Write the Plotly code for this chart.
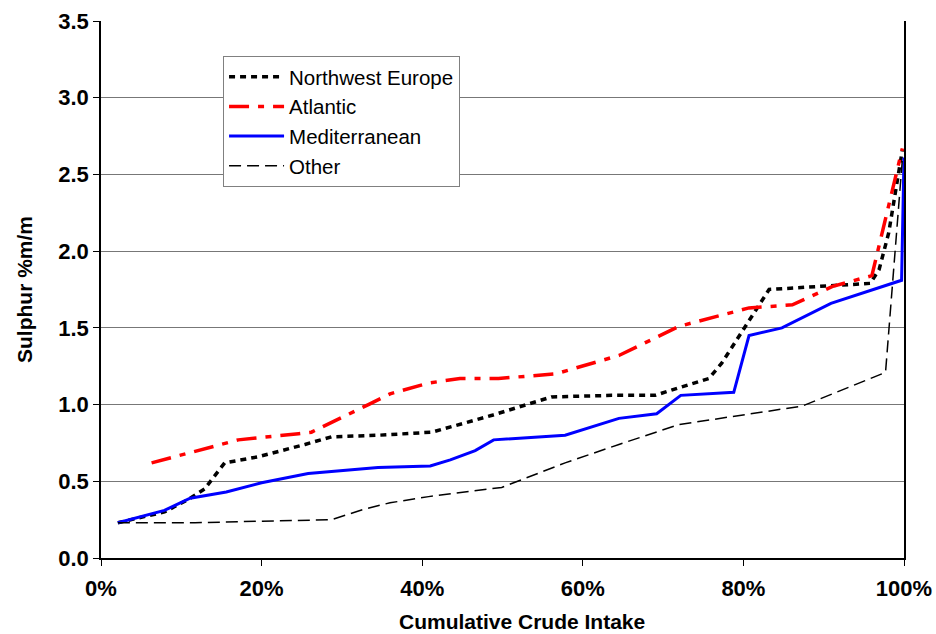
import plotly.graph_objects as go

# Cumulative crude intake (%) and sulphur (%m/m) per region
nwe_x = [2.1, 7.9, 10.8, 12.9, 15.4, 19.6, 25.4, 28.7, 34.5, 41.2, 48.7, 56.1, 63.6, 69.0, 72.0, 75.7, 77.3, 80.3, 83.2, 89.4, 95.8, 96.9, 98.1, 99.8]
nwe_y = [0.23, 0.30, 0.38, 0.45, 0.62, 0.66, 0.74, 0.79, 0.80, 0.82, 0.93, 1.05, 1.06, 1.06, 1.11, 1.17, 1.27, 1.51, 1.75, 1.77, 1.79, 1.88, 2.12, 2.66]

atl_x = [6.3, 12.1, 17.1, 24.6, 26.2, 33.3, 36.0, 40.8, 44.7, 49.5, 56.6, 64.5, 72.0, 80.7, 86.1, 91.1, 96.0, 99.8]
atl_y = [0.62, 0.70, 0.77, 0.81, 0.82, 1.00, 1.07, 1.14, 1.17, 1.17, 1.20, 1.32, 1.51, 1.63, 1.65, 1.77, 1.84, 2.67]

med_x = [2.1, 7.9, 11.1, 15.6, 20.0, 25.8, 34.5, 41.0, 43.5, 46.6, 48.9, 57.8, 64.5, 69.2, 72.2, 78.8, 80.7, 84.8, 90.9, 99.7, 100.0]
med_y = [0.23, 0.31, 0.39, 0.43, 0.49, 0.55, 0.59, 0.60, 0.64, 0.70, 0.77, 0.80, 0.91, 0.94, 1.06, 1.08, 1.45, 1.50, 1.66, 1.81, 2.61]

oth_x = [2.1, 11.7, 28.7, 32.9, 36.0, 40.8, 49.9, 57.8, 64.5, 72.0, 87.3, 97.7, 99.8]
oth_y = [0.23, 0.23, 0.25, 0.32, 0.36, 0.40, 0.46, 0.62, 0.74, 0.87, 0.99, 1.21, 2.60]

x_ticks = [0, 20, 40, 60, 80, 100]
x_tick_labels = ["0%", "20%", "40%", "60%", "80%", "100%"]
y_ticks = [0.0, 0.5, 1.0, 1.5, 2.0, 2.5, 3.0, 3.5]

FONT = "Liberation Sans, Arial, sans-serif"

fig = go.Figure()
fig.add_trace(go.Scatter(x=nwe_x, y=nwe_y, mode="lines", name="Northwest Europe",
                         line=dict(color="black", width=3.5, dash="6px,5px")))
fig.add_trace(go.Scatter(x=atl_x, y=atl_y, mode="lines", name="Atlantic",
                         line=dict(color="#FF0000", width=3.5, dash="20px,9px,6px,9px")))
fig.add_trace(go.Scatter(x=med_x, y=med_y, mode="lines", name="Mediterranean",
                         line=dict(color="#0000FF", width=3)))
fig.add_trace(go.Scatter(x=oth_x, y=oth_y, mode="lines", name="Other",
                         line=dict(color="black", width=1.5, dash="12px,6px")))

fig.add_annotation(text="<b>Cumulative Crude Intake</b>", xref="paper", yref="paper",
                   x=0.524, y=-0.118, xanchor="center", yanchor="middle", showarrow=False,
                   borderpad=0, font=dict(family=FONT, size=21, color="black"))

fig.update_layout(
    width=936, height=634,
    margin=dict(l=101, r=32, t=21, b=76),
    paper_bgcolor="white", plot_bgcolor="white",
    font=dict(family=FONT, color="black"),
    showlegend=True,
    legend=dict(x=0.152, y=0.935, xanchor="left", yanchor="top",
                bgcolor="white", bordercolor="#808080", borderwidth=1,
                font=dict(family=FONT, size=20.5, color="black"),
                itemwidth=55, tracegroupgap=0),
    xaxis=dict(range=[0, 100], tickvals=x_ticks, ticktext=x_tick_labels,
               showgrid=False, zeroline=False, automargin=False,
               showline=True, linecolor="black", linewidth=2,
               ticks="outside", ticklen=6, tickcolor="black",
               ticklabelstandoff=4, ticklabeloverflow="allow",
               tickfont=dict(family=FONT, size=22, color="black", weight="bold")),
    yaxis=dict(range=[0, 3.5], tickvals=y_ticks, tickformat=".1f",
               showgrid=True, gridcolor="#777777", gridwidth=1, zeroline=False, automargin=False,
               showline=True, linecolor="black", linewidth=1.5, mirror=True,
               ticks="outside", ticklen=6, tickcolor="black", ticklabeloverflow="allow",
               tickfont=dict(family=FONT, size=22, color="black", weight="bold"),
               title=dict(text="<b>Sulphur %m/m</b>", font=dict(family=FONT, size=21), standoff=20)),
)

fig.write_html("out.html", config={"displayModeBar": False},
               post_script="document.body.style.margin='0';")
